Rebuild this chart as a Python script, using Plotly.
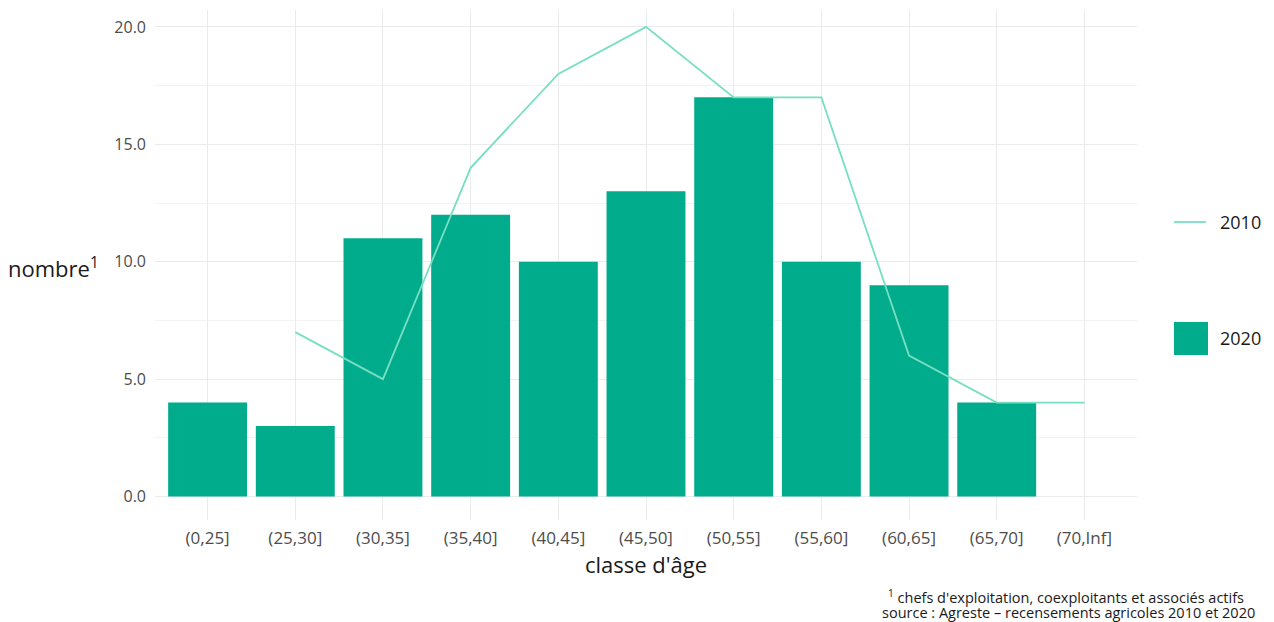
import plotly.graph_objects as go

categories = ["(0,25]", "(25,30]", "(30,35]", "(35,40]", "(40,45]", "(45,50]",
              "(50,55]", "(55,60]", "(60,65]", "(65,70]", "(70,Inf]"]
values_2020 = [4, 3, 11, 12, 10, 13, 17, 10, 9, 4, None]
values_2010 = [None, 7, 5, 14, 18, 20, 17, 17, 6, 4, 4]
y_ticks = [0, 5, 10, 15, 20]

BAR_COLOR = "#00ac8c"
LINE_COLOR = "#76dfc2"
FONT = "Open Sans"
W, H = 1274, 622
OFF = 8  # page body margin
# plot area in screen pixels: x 155..1137, y 10..520
L = 155 - OFF
T = 10 - OFF
R = W - (1137 - OFF)
B = H - (520 - OFF)

fig = go.Figure()
fig.add_trace(go.Bar(x=categories, y=values_2020, name="2020",
                     marker=dict(color=BAR_COLOR, line=dict(width=0)),
                     width=0.9, showlegend=False))
fig.add_trace(go.Scatter(x=categories, y=values_2010, name="2010", mode="lines",
                         line=dict(color=LINE_COLOR, width=1.8),
                         connectgaps=False, showlegend=False))

fig.update_layout(
    width=W, height=H,
    margin=dict(l=L, r=R, t=T, b=B),
    paper_bgcolor="white", plot_bgcolor="white",
    font=dict(family=FONT, color="#4d4d4d", size=16),
    xaxis=dict(type="category", range=[-0.6, 10.6], showgrid=True,
               gridcolor="#ebebeb", gridwidth=1, zeroline=False, showline=False,
               ticks="", tickfont=dict(size=17, color="#4d4d4d"),
               ticklabelstandoff=6,
               title=dict(text="classe d'âge", font=dict(size=22, color="#1a1a1a"),
                          standoff=2)),
    yaxis=dict(range=[-1, 20.72], tickvals=y_ticks, tickformat=".1f",
               showgrid=True, gridcolor="#ebebeb", gridwidth=1,
               zeroline=False, showline=False, ticks="",
               ticklabelstandoff=8,
               tickfont=dict(size=16, color="#4d4d4d"),
               minor=dict(dtick=2.5, tick0=0, showgrid=True, gridcolor="#f3f3f3",
                          gridwidth=1)),
    bargap=0.1,
)

def fx(x):
    return (x - OFF - L) / (W - L - R)

def fy(y):
    return (H - B - (y - OFF)) / (H - T - B)

# y-axis title (horizontal)
fig.add_annotation(xref="paper", yref="paper", x=fx(6), y=fy(267),
                   xanchor="left", yanchor="middle", showarrow=False,
                   text="nombre<sup>1</sup>", font=dict(size=22, color="#1a1a1a"))

# custom legend
fig.add_shape(type="line", xref="paper", yref="paper",
              x0=fx(1174), x1=fx(1206), y0=fy(222), y1=fy(222),
              line=dict(color=LINE_COLOR, width=1.8))
fig.add_annotation(xref="paper", yref="paper", x=fx(1218), y=fy(222),
                   xanchor="left", yanchor="middle", showarrow=False,
                   text="2010", font=dict(size=18, color="#1a1a1a"))
fig.add_shape(type="rect", xref="paper", yref="paper",
              x0=fx(1174), x1=fx(1208), y0=fy(355), y1=fy(322),
              fillcolor=BAR_COLOR, line=dict(width=0))
fig.add_annotation(xref="paper", yref="paper", x=fx(1218), y=fy(338),
                   xanchor="left", yanchor="middle", showarrow=False,
                   text="2020", font=dict(size=18, color="#1a1a1a"))

# footnotes
fig.add_annotation(xref="paper", yref="paper", x=fx(886), y=fy(596),
                   xanchor="left", yanchor="middle", showarrow=False,
                   text="<sup>1</sup> chefs d'exploitation, coexploitants et associés actifs",
                   font=dict(size=14.5, color="#1a1a1a"))
fig.add_annotation(xref="paper", yref="paper", x=fx(880), y=fy(612),
                   xanchor="left", yanchor="middle", showarrow=False,
                   text="source : Agreste – recensements agricoles 2010 et 2020",
                   font=dict(size=14.5, color="#1a1a1a"))

fig.write_html("out.html")
